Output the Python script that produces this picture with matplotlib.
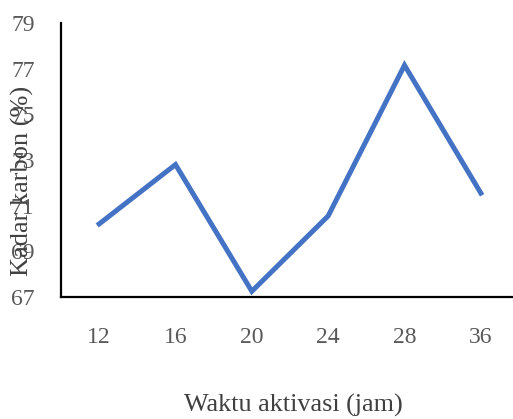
import matplotlib
matplotlib.use("Agg")
import matplotlib.pyplot as plt

categories = ["12", "16", "20", "24", "28", "36"]
kadar_karbon = [70.2, 72.8, 67.25, 70.55, 77.15, 71.55]
y_ticks = [67, 69, 71, 73, 75, 77, 79]

plt.rcParams['font.family'] = ['Liberation Serif', 'DejaVu Serif']

fig = plt.figure(figsize=(5.13, 4.19), dpi=100)
W, H = 513, 419
ax = fig.add_axes([61 / W, (H - 297) / H, (519 - 61) / W, (297 - 23) / H])

x = list(range(len(categories)))
ax.plot(x, kadar_karbon, color="#4472C4", linewidth=3.6, solid_joinstyle="miter")

ax.set_xlim(-0.5, len(categories) - 0.5)
ax.set_ylim(67, 79)
ax.set_yticks(y_ticks)
ax.set_xticks(x)
ax.set_xticklabels(categories)

for s in ["top", "right"]:
    ax.spines[s].set_visible(False)
for s in ["left", "bottom"]:
    ax.spines[s].set_linewidth(1.6)
    ax.spines[s].set_color("black")

ax.tick_params(axis="both", length=0, labelsize=17, labelcolor="#595959")
ax.tick_params(axis="x", pad=21.5)
ax.tick_params(axis="y", pad=19)

ax.set_xlabel("Waktu aktivasi (jam)", fontsize=18.8, color="#404040")
ax.xaxis.set_label_coords((293 - 61) / (519 - 61), -(405 - 297) / (297 - 23))
ax.xaxis.label.set_va("center")
ax.set_ylabel("Kadar karbon (%)", fontsize=19, color="#404040")
ax.yaxis.set_label_coords(-(61 - 22) / (519 - 61), (297 - 181) / (297 - 23))
ax.yaxis.label.set_va("center")

fig.savefig("out.png", dpi=100)
